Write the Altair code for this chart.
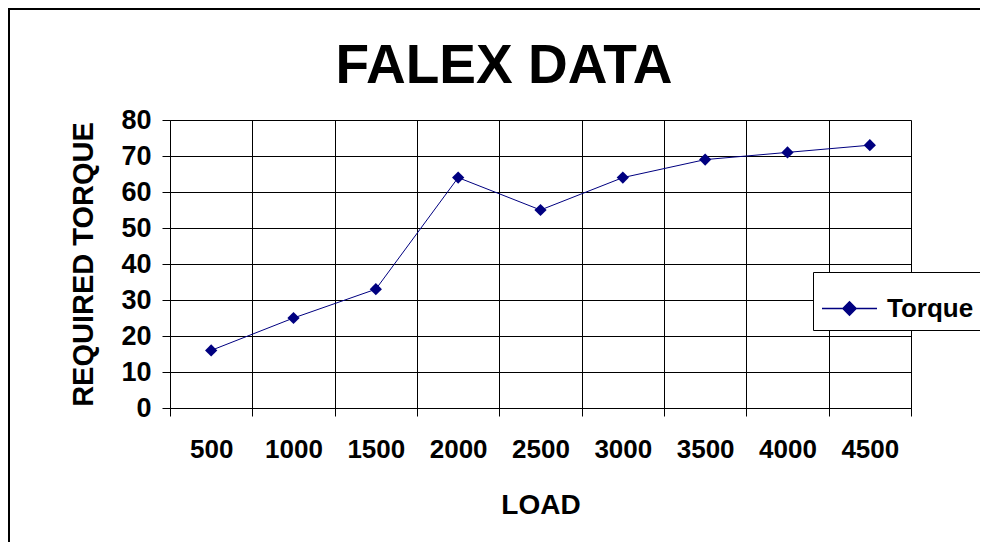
import altair as alt
import pandas as pd

loads = [500, 1000, 1500, 2000, 2500, 3000, 3500, 4000, 4500]
torque = [16, 25, 33, 64, 55, 64, 69, 71, 73]
series_name = "Torque"
y_ticks = [0, 10, 20, 30, 40, 50, 60, 70, 80]

step = loads[1] - loads[0]
half = step / 2
x_domain = [loads[0] - half, loads[-1] + half]
axis_vals = sorted(set([l - half for l in loads] + loads + [loads[-1] + half]))

df = pd.DataFrame({"load": loads, "torque": torque, "series": [series_name] * len(loads)})

FONT = "Liberation Sans"
NAVY = "#000080"

x_enc = alt.X(
    "load:Q",
    scale=alt.Scale(domain=x_domain, nice=False, zero=False),
    axis=alt.Axis(
        values=axis_vals,
        title="LOAD",
        format="d",
        labelExpr=f"datum.value % {step} === 0 ? datum.label : ''",
        gridOpacity={"condition": {"test": f"datum.value % {step} === 0", "value": 0}, "value": 1},
        tickOpacity={"condition": {"test": f"datum.value % {step} === 0", "value": 0}, "value": 1},
        gridColor="black",
        tickColor="black",
        domainColor="black",
        tickSize=8,
        labelFontSize=26,
        labelFont=FONT,
        labelFontWeight="bold",
        labelColor="black",
        labelPadding=20,
        labelOverlap=False,
        labelFlush=False,
        titleFontSize=28,
        titleFont=FONT,
        titleFontWeight="bold",
        titleColor="black",
        titlePadding=29,
    ),
)
y_enc = alt.Y(
    "torque:Q",
    scale=alt.Scale(domain=[y_ticks[0], y_ticks[-1]], nice=False, zero=True),
    axis=alt.Axis(
        values=y_ticks,
        tickCount=len(y_ticks),
        title="REQUIRED TORQUE",
        gridColor="black",
        tickColor="black",
        domainColor="black",
        tickSize=8,
        labelFontSize=27,
        labelFont=FONT,
        labelFontWeight="bold",
        labelColor="black",
        labelPadding=11,
        labelOverlap=False,
        labelFlush=False,
        titleFontSize=29,
        titleFont=FONT,
        titleFontWeight="bold",
        titleColor="black",
        titlePadding=22,
    ),
)

color_enc = alt.Color(
    "series:N",
    scale=alt.Scale(range=[NAVY]),
    legend=alt.Legend(
        title=None,
        orient="none",
        legendX=643,
        legendY=152,
        padding=8,
        strokeColor="black",
        fillColor="white",
        cornerRadius=0,
        symbolType="M-1,0H-0.24M0.24,0H1M-0.24,0L0,-0.24L0.24,0L0,0.24Z",
        symbolSize=3025,
        symbolStrokeWidth=1.5,
        symbolFillColor=NAVY,
        symbolStrokeColor=NAVY,
        labelFontSize=26,
        labelFont=FONT,
        labelFontWeight="bold",
        labelColor="black",
        labelOffset=9,
    ),
)

base = alt.Chart(df)
line = base.mark_line(color=NAVY, strokeWidth=1).encode(x=x_enc, y=y_enc, color=color_enc)
pts = base.mark_point(shape="diamond", filled=True, size=150, opacity=1).encode(
    x=x_enc, y=y_enc, color=color_enc
)

frame = alt.Chart(pd.DataFrame({"a": [0]})).mark_rect(
    fill=None, stroke="black", strokeWidth=2
).encode(x=alt.value(-161), x2=alt.value(900), y=alt.value(-111), y2=alt.value(600))

title = alt.Chart(pd.DataFrame({"t": ["FALEX DATA"]})).mark_text(
    font=FONT, fontSize=55, fontWeight="bold", color="black", baseline="alphabetic", align="center"
).encode(text="t:N", x=alt.value(334), y=alt.value(-37))

chart = alt.layer(frame, line, pts, title).properties(
    width=741,
    height=288,
    autosize=alt.AutoSizeParams(type="none"),
    padding={"left": 162, "top": 112, "right": 69, "bottom": 134},
).configure_view(stroke="#808080", strokeWidth=1).configure(background="white")

chart.save("out.html", embed_options={"renderer": "svg", "actions": False})
